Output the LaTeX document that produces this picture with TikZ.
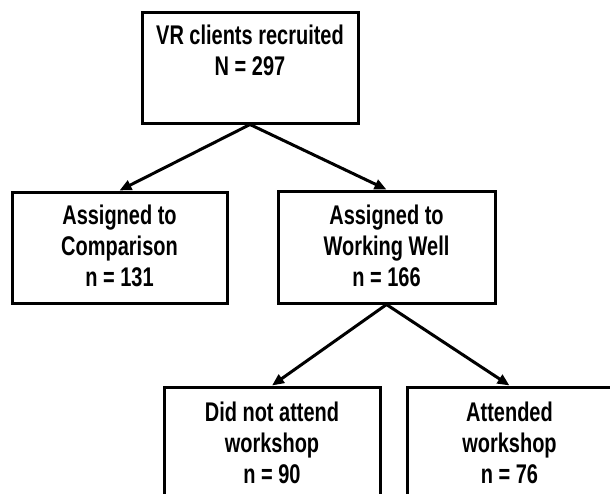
\documentclass[tikz,border=0pt]{standalone}
\usepackage{fontspec}
\setmainfont[FakeStretch=0.74]{Liberation Sans}
\usetikzlibrary{arrows.meta,calc}
\begin{document}
\begin{tikzpicture}[x=1pt,y=-1pt,
  box/.style={draw=black,line width=3pt,rectangle,inner sep=0pt},
  txt/.style={align=center,inner sep=0pt,anchor=base,
    font=\fontsize{27}{31}\selectfont\bfseries},
  arr/.style={line width=3pt,-{Triangle[length=12pt,width=10pt]}}]
\useasboundingbox (0,0) rectangle (610,493);
\clip (0,0) rectangle (610,493);
\fill[white] (0,0) rectangle (610,493);
\node[box,minimum width=216pt,minimum height=111pt] (top) at (250,67.5) {};
\node[box,minimum width=215pt,minimum height=111pt] (cmp) at (119.5,247.5) {};
\node[box,minimum width=217pt,minimum height=112pt] (ww) at (386.5,247) {};
\node[box,minimum width=216pt,minimum height=120pt] (dna) at (272,447) {};
\node[box,minimum width=205pt,minimum height=120pt] (att) at (509.5,447) {};
\node[txt] (ttop) at ($(top.north)+(0,65)$) {VR clients recruited\\N = 297};
\node[txt] (tcmp) at ($(cmp.north)+(0,96)$) {Assigned to\\Comparison\\n = 131};
\node[txt] (tww) at ($(ww.north)+(0,97)$) {Assigned to\\Working Well\\n = 166};
\node[txt] (tdna) at ($(dna.north)+(0,98)$) {Did not attend\\workshop\\n = 90};
\node[txt] (tatt) at ($(att.north)+(0,98)$) {Attended\\workshop\\n = 76};
\draw[arr] (top.south) -- (cmp.north);
\draw[arr] (top.south) -- (ww.north);
\draw[arr] (ww.south) -- (dna.north);
\draw[arr] (ww.south) -- (att.north);
\end{tikzpicture}
\end{document}
